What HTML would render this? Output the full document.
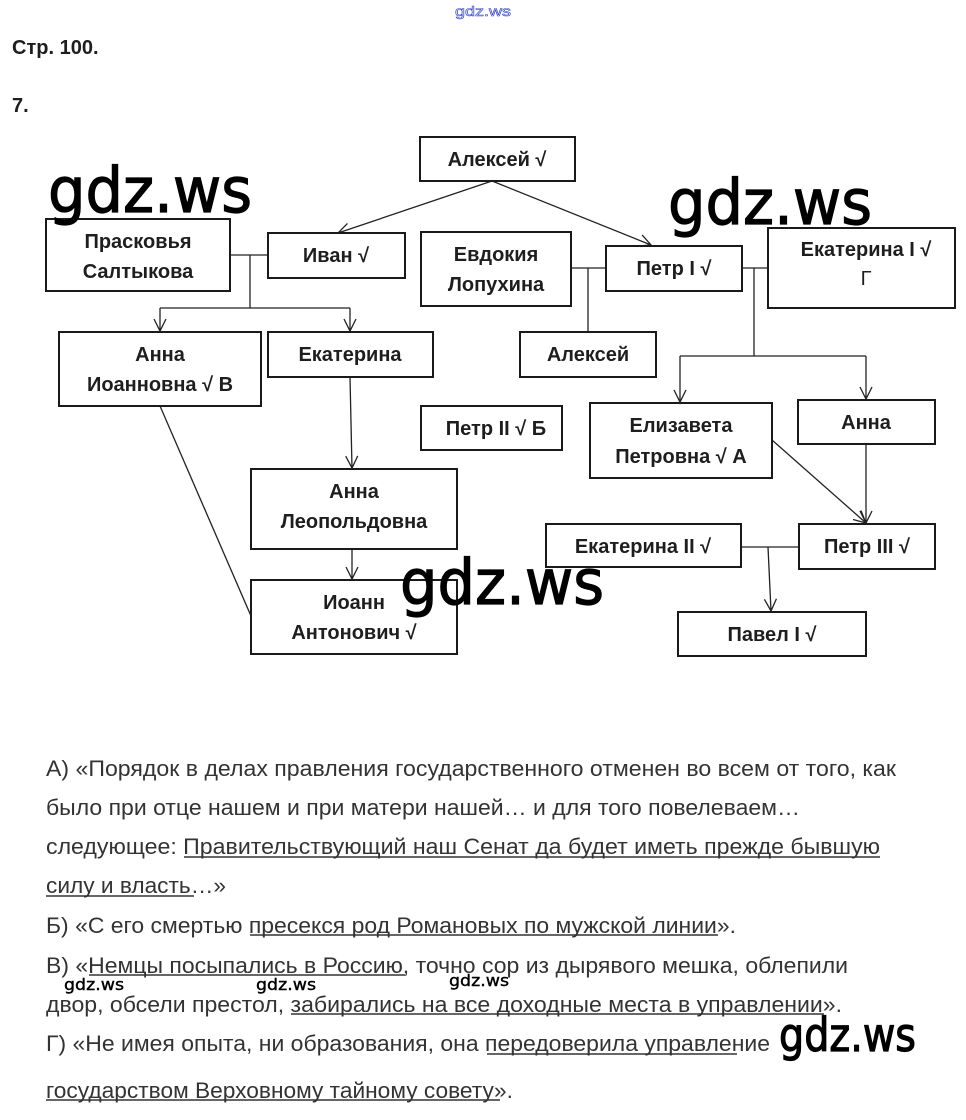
<!DOCTYPE html>
<html><head><meta charset="utf-8"><style>
html,body{margin:0;padding:0;background:#fff;width:966px;height:1120px;overflow:hidden}
svg{display:block}
.b{font-family:"Liberation Sans",sans-serif;font-weight:bold;font-size:20px;fill:#1e1e1e}
.t{font-family:"Liberation Sans",sans-serif;font-size:22px;fill:#333}
.w{font-family:"DejaVu Sans","Liberation Sans",sans-serif;fill:#000;stroke:#000;stroke-width:1.2}
.ws{stroke-width:0.4}
rect{fill:#fff;stroke:#1a1a1a;stroke-width:2}
.l{stroke:#222;stroke-width:1.3;fill:none}
.u{stroke:#333;stroke-width:1.6}
</style></head><body>
<svg width="966" height="1120" viewBox="0 0 966 1120" xmlns="http://www.w3.org/2000/svg">
<defs><marker id="a" markerWidth="16" markerHeight="16" refX="14" refY="8" orient="auto" markerUnits="userSpaceOnUse"><polyline points="2,2 14,8 2,14" fill="none" stroke="#222" stroke-width="1.3"/></marker></defs>
<text x="455" y="16" font-family="Liberation Sans,sans-serif" font-size="14" fill="none" stroke="#3344cc" stroke-width="0.6" textLength="56" lengthAdjust="spacingAndGlyphs">gdz.ws</text>
<text class="b" x="12" y="54" style="font-size:20px">Стр. 100.</text>
<text class="b" x="12" y="112">7.</text>

<line class="l" x1="492" y1="181" x2="338" y2="233" marker-end="url(#a)"/>
<line class="l" x1="492" y1="181" x2="651" y2="245" marker-end="url(#a)"/>
<line class="l" x1="230" y1="255" x2="268" y2="255"/>
<line class="l" x1="250" y1="255" x2="250" y2="308"/>
<polyline class="l" points="160,308 350,308"/>
<line class="l" x1="160" y1="308" x2="160" y2="331" marker-end="url(#a)"/>
<line class="l" x1="350" y1="308" x2="350" y2="331" marker-end="url(#a)"/>
<line class="l" x1="571" y1="268" x2="606" y2="268"/>
<line class="l" x1="588" y1="268" x2="588" y2="332"/>
<line class="l" x1="742" y1="268" x2="768" y2="268"/>
<line class="l" x1="754" y1="268" x2="754" y2="356"/>
<polyline class="l" points="680,356 866,356"/>
<line class="l" x1="680" y1="356" x2="680" y2="402" marker-end="url(#a)"/>
<line class="l" x1="866" y1="356" x2="866" y2="399" marker-end="url(#a)"/>
<line class="l" x1="350" y1="377" x2="352" y2="468" marker-end="url(#a)"/>
<line class="l" x1="160" y1="406" x2="251" y2="616"/>
<line class="l" x1="352" y1="549" x2="352" y2="579" marker-end="url(#a)"/>
<line class="l" x1="772" y1="440" x2="866" y2="523" marker-end="url(#a)"/>
<line class="l" x1="866" y1="444" x2="866" y2="523" marker-end="url(#a)"/>
<line class="l" x1="741" y1="547" x2="799" y2="547"/>
<line class="l" x1="768" y1="547" x2="771" y2="611" marker-end="url(#a)"/>

<rect x="420" y="137" width="155" height="44"/><text class="b" x="497" y="166" text-anchor="middle">Алексей √</text>
<rect x="46" y="219" width="184" height="72"/><text class="b" x="138" y="248" text-anchor="middle">Прасковья</text><text class="b" x="138" y="278" text-anchor="middle">Салтыкова</text>
<rect x="268" y="233" width="137" height="45"/><text class="b" x="336" y="262" text-anchor="middle">Иван √</text>
<rect x="421" y="232" width="150" height="74"/><text class="b" x="496" y="261" text-anchor="middle">Евдокия</text><text class="b" x="496" y="291" text-anchor="middle">Лопухина</text>
<rect x="606" y="246" width="136" height="45"/><text class="b" x="674" y="275" text-anchor="middle">Петр I √</text>
<rect x="768" y="228" width="187" height="80"/><text class="b" x="866" y="256" text-anchor="middle">Екатерина I √</text><text class="b" x="866" y="285" text-anchor="middle" style="font-weight:normal">Г</text>
<rect x="59" y="332" width="202" height="74"/><text class="b" x="160" y="361" text-anchor="middle">Анна</text><text class="b" x="160" y="391" text-anchor="middle">Иоанновна √ В</text>
<rect x="268" y="332" width="165" height="45"/><text class="b" x="350" y="361" text-anchor="middle">Екатерина</text>
<rect x="520" y="332" width="136" height="45"/><text class="b" x="588" y="361" text-anchor="middle">Алексей</text>
<rect x="421" y="406" width="141" height="44"/><text class="b" x="496" y="435" text-anchor="middle">Петр II √ Б</text>
<rect x="590" y="403" width="182" height="75"/><text class="b" x="681" y="432" text-anchor="middle">Елизавета</text><text class="b" x="681" y="463" text-anchor="middle">Петровна √ А</text>
<rect x="798" y="400" width="137" height="44"/><text class="b" x="866" y="429" text-anchor="middle">Анна</text>
<rect x="251" y="469" width="206" height="80"/><text class="b" x="354" y="498" text-anchor="middle">Анна</text><text class="b" x="354" y="528" text-anchor="middle">Леопольдовна</text>
<rect x="546" y="524" width="195" height="43"/><text class="b" x="643" y="553" text-anchor="middle">Екатерина II √</text>
<rect x="799" y="524" width="136" height="45"/><text class="b" x="867" y="553" text-anchor="middle">Петр III √</text>
<rect x="678" y="612" width="188" height="44"/><text class="b" x="772" y="641" text-anchor="middle">Павел I √</text>
<rect x="251" y="580" width="206" height="74"/><text class="b" x="354" y="609" text-anchor="middle">Иоанн</text><text class="b" x="354" y="639" text-anchor="middle">Антонович √</text>

<text class="w" x="48" y="212" font-size="62" textLength="204" lengthAdjust="spacingAndGlyphs">gdz.ws</text>
<text class="w" x="668" y="224" font-size="62" textLength="204" lengthAdjust="spacingAndGlyphs">gdz.ws</text>
<text class="w" x="400" y="604" font-size="62" textLength="204" lengthAdjust="spacingAndGlyphs">gdz.ws</text>

<text class="t" x="46" y="776" textLength="850" lengthAdjust="spacingAndGlyphs">А) «Порядок в делах правления государственного отменен во всем от того, как</text>
<text class="t" x="46" y="815" textLength="754" lengthAdjust="spacingAndGlyphs">было при отце нашем и при матери нашей… и для того повелеваем…</text>
<text class="t" x="46" y="854" textLength="834" lengthAdjust="spacingAndGlyphs">следующее: Правительствующий наш Сенат да будет иметь прежде бывшую</text>
<line class="u" x1="184" y1="857" x2="880" y2="857"/>
<text class="t" x="46" y="893" textLength="180" lengthAdjust="spacingAndGlyphs">силу и власть…»</text>
<line class="u" x1="46" y1="896" x2="194" y2="896"/>
<text class="t" x="46" y="933" textLength="690" lengthAdjust="spacingAndGlyphs">Б) «С его смертью пресекся род Романовых по мужской линии».</text>
<line class="u" x1="250" y1="935" x2="718" y2="935"/>
<text class="t" x="46" y="973" textLength="802" lengthAdjust="spacingAndGlyphs">В) «Немцы посыпались в Россию, точно сор из дырявого мешка, облепили</text>
<line class="u" x1="89" y1="975" x2="405" y2="975"/>
<text class="t" x="46" y="1012" textLength="796" lengthAdjust="spacingAndGlyphs">двор, обсели престол, забирались на все доходные места в управлении».</text>
<line class="u" x1="291" y1="1014" x2="824" y2="1014"/>
<text class="t" x="46" y="1051" textLength="724" lengthAdjust="spacingAndGlyphs">Г) «Не имея опыта, ни образования, она передоверила управление</text>
<line class="u" x1="487" y1="1054" x2="737" y2="1054"/>
<text class="t" x="46" y="1098" textLength="467" lengthAdjust="spacingAndGlyphs">государством Верховному тайному совету».</text>
<line class="u" x1="46" y1="1100" x2="500" y2="1100"/>

<text class="w ws" x="64" y="990" font-size="16" textLength="60" lengthAdjust="spacingAndGlyphs">gdz.ws</text>
<text class="w ws" x="256" y="990" font-size="16" textLength="60" lengthAdjust="spacingAndGlyphs">gdz.ws</text>
<text class="w ws" x="449" y="986" font-size="16" textLength="60" lengthAdjust="spacingAndGlyphs">gdz.ws</text>
<text class="w" x="779" y="1051" font-size="46" textLength="137" lengthAdjust="spacingAndGlyphs">gdz.ws</text>
</svg>
</body></html>
